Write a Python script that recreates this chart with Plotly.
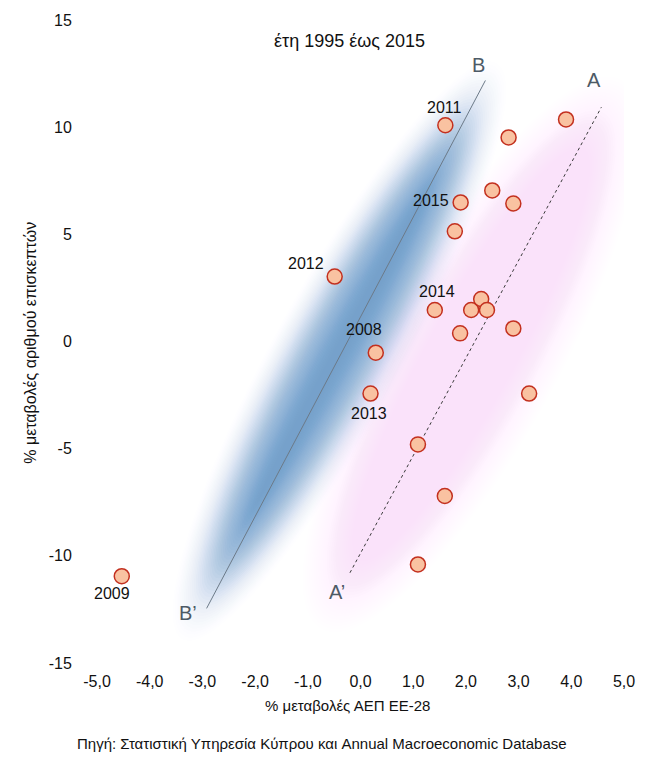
import numpy as np
import plotly.graph_objects as go

# ---------------- data ----------------
gdp_change = [-4.53, -0.49, 0.29, 0.19, 1.61, 1.90, 1.79, 2.50, 2.81, 2.90, 3.90,
              1.41, 2.10, 2.29, 2.40, 1.89, 2.90, 3.20, 1.09, 1.60, 1.09]
visitor_change = [-10.95, 3.03, -0.52, -2.43, 10.09, 6.49, 5.14, 7.05, 9.52, 6.44, 10.36,
                  1.47, 1.47, 1.98, 1.47, 0.38, 0.61, -2.43, -4.80, -7.21, -10.40]
year_labels = ["2009", "2012", "2008", "2013", "2011", "2015", "", "", "", "", "",
               "2014", "", "", "", "", "", "", "", "", ""]

x_tickvals = [-5, -4, -3, -2, -1, 0, 1, 2, 3, 4, 5]
x_ticktext = ["-5,0", "-4,0", "-3,0", "-2,0", "-1,0", "0,0", "1,0", "2,0", "3,0", "4,0", "5,0"]
y_tickvals = [-15, -10, -5, 0, 5, 10, 15]
y_ticktext = ["-15", "-10", "-5", "0", "5", "10", "15"]

line_B_x = [-2.92, 2.37]
line_B_y = [-12.45, 12.18]
line_A_x = [-0.20, 4.57]
line_A_y = [-10.79, 10.93]

title_text = "έτη 1995 έως 2015"
x_title = "% μεταβολές ΑΕΠ ΕΕ-28"
y_title = "% μεταβολές αριθμού επισκεπτών"
source_text = "Πηγή: Στατιστική Υπηρεσία Κύπρου και Annual Macroeconomic Database"

# ---------------- layout constants ----------------
W, H = 647, 760
ML, MR, MT, MB = 97, 21, 15, 97
XR = [-5, 5]
YR = [-15, 15]
PW, PH = W - ML - MR, H - MT - MB
SX = PW / (XR[1] - XR[0])   # px per x unit
SY = PH / (YR[1] - YR[0])   # px per y unit

FONT = "Liberation Sans, Arial, Helvetica, sans-serif"

fig = go.Figure()


def smoothstep(z):
    z = np.clip(z, 0.0, 1.0)
    return z * z * (3 - 2 * z)


def add_glow(cx, cy, half_len_px, half_wid_px, angle_deg, rgb, tmax, fade_px, k_len, n=50):
    """Soft elliptical glow built from nested translucent ellipses."""
    t = np.linspace(0, 2 * np.pi, 160)
    th = np.deg2rad(angle_deg)
    insets = np.linspace(0.0, half_wid_px * 0.95, n)
    prev = 0.0
    for d in insets:
        target = tmax * smoothstep(d / fade_px)
        target = max(target, prev)
        a = 1 - (1 - target) / (1 - prev) if prev < 1 else 0.0
        prev = target
        if a <= 1e-4:
            continue
        u = max(half_len_px - k_len * d, 1.0) * np.cos(t)
        v = (half_wid_px - d) * np.sin(t)
        px = u * np.cos(th) - v * np.sin(th)
        py = u * np.sin(th) + v * np.cos(th)
        fig.add_trace(go.Scatter(
            x=cx + px / SX, y=cy + py / SY, mode="lines", fill="toself",
            line=dict(width=0), fillcolor=f"rgba({rgb[0]},{rgb[1]},{rgb[2]},{a:.4f})",
            hoverinfo="skip", showlegend=False))


# blue glow (around line B) and pink glow (around line A)
add_glow(-0.40, -0.45, 338, 68, 61.5, (50, 112, 182), 0.62, 62, 2.7)
add_glow(2.10, -0.60, 332, 98, 61.5, (214, 148, 222), 0.26, 60, 1.8)

# lines
fig.add_trace(go.Scatter(x=line_B_x, y=line_B_y, mode="lines",
                         line=dict(color="#6c7a88", width=1), hoverinfo="skip", showlegend=False))
fig.add_trace(go.Scatter(x=line_A_x, y=line_A_y, mode="lines",
                         line=dict(color="#3a3a3a", width=1, dash="dot"), hoverinfo="skip", showlegend=False))

# points
fig.add_trace(go.Scatter(
    x=gdp_change, y=visitor_change, mode="markers",
    marker=dict(size=15, color="#f9c2a1", line=dict(color="#c3301f", width=1.5)),
    showlegend=False))

# year labels (pixel offsets from the point)
label_offsets = {"2009": (-10, 17), "2012": (-29, -13), "2008": (-12, -23), "2013": (-2, 20),
                 "2011": (-1, -18), "2015": (-30, -2), "2014": (2, -18)}
for xv, yv, lab in zip(gdp_change, visitor_change, year_labels):
    if lab:
        dx, dy = label_offsets[lab]
        fig.add_annotation(x=xv, y=yv, text=lab, showarrow=False, xshift=dx, yshift=-dy,
                           font=dict(family=FONT, size=16, color="#111"),
                           xanchor="center", yanchor="middle")

# line letters
letter_font = dict(family=FONT, size=20, color="#4d5a66")
for txt, xv, yv in [("B", 2.24, 12.92), ("A", 4.43, 12.18), ("B’", -3.28, -12.69), ("A’", -0.44, -11.71)]:
    fig.add_annotation(x=xv, y=yv, text=txt, showarrow=False, font=letter_font,
                       xanchor="center", yanchor="middle")


def px_to_paper(px, py):
    return (px - ML) / PW, (H - MB - py) / PH


for txt, (pxx, pyy), size, extra in [
    (title_text, (350, 36), 18, {}),
    (x_title, (348, 706), 15, {}),
    (source_text, (323, 744), 15, {}),
    (y_title, (30, 340), 16, {"textangle": -90}),
]:
    ax, ay = px_to_paper(pxx, pyy)
    fig.add_annotation(x=ax, y=ay, xref="paper", yref="paper", text=txt, showarrow=False,
                       xanchor="center", yanchor="middle",
                       font=dict(family=FONT, size=size, color="#111"), **extra)

fig.update_layout(
    width=W, height=H,
    margin=dict(l=ML, r=MR, t=MT, b=MB),
    paper_bgcolor="white", plot_bgcolor="white",
    xaxis=dict(range=XR, tickvals=x_tickvals, ticktext=x_ticktext, showgrid=False,
               zeroline=False, showline=False, ticks="outside", ticklen=4,
               tickcolor="rgba(0,0,0,0)", tickfont=dict(family=FONT, size=16, color="#111")),
    yaxis=dict(range=YR, tickvals=y_tickvals, ticktext=y_ticktext, showgrid=False,
               zeroline=False, showline=False, ticks="outside", ticklen=21,
               tickcolor="rgba(0,0,0,0)", tickfont=dict(family=FONT, size=16, color="#111")),
)

fig.write_html("out.html")
